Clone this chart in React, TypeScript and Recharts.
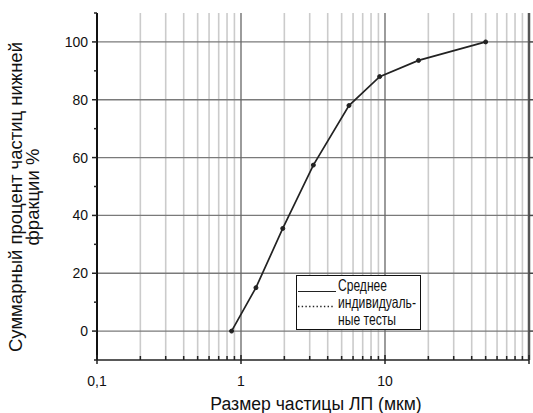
import React from 'react';
import { LineChart, Line, XAxis, YAxis, ReferenceLine, Legend } from 'recharts';

const particleSizes = [0.86, 1.27, 1.95, 3.18, 5.62, 9.18, 17.1, 50];
const cumulativePercent = [0, 15, 35.5, 57.4, 78, 88, 93.6, 100];
const data = particleSizes.map((s, i) => ({ size: s, value: cumulativePercent[i] }));

const xMajorTicks = [0.1, 1, 10, 100];
const xMinorTicks = [0.2, 0.3, 0.4, 0.5, 0.6, 0.7, 0.8, 0.9, 2, 3, 4, 5, 6, 7, 8, 9, 20, 30, 40, 50, 60, 70, 80, 90];
const xTickLabels: Record<string, string> = { '0.1': '0,1', '1': '1', '10': '10' };
const yMajorTicks = [0, 20, 40, 60, 80, 100];
const yMinorTicks = [-10, 10, 30, 50, 70, 90, 110];
const yTickLabels = ['0', '20', '40', '60', '80', '100'];

const FONT = "'Liberation Sans', Arial, sans-serif";

const allXTicks = [...xMajorTicks, ...xMinorTicks].sort((a, b) => a - b);
const allYTicks = [...yMajorTicks, ...yMinorTicks].sort((a, b) => a - b);

const XTick = (props: any) => {
  const { x, y, payload } = props;
  const v = payload.value;
  const label = xTickLabels[String(v)];
  const major = xMajorTicks.includes(v);
  return (
    <g>
      <line x1={x} x2={x} y1={major ? y - 5 : y - 4} y2={major ? y + 4 : y} stroke="#222" strokeWidth={1.5} />
      {label !== undefined && (
        <text x={x} y={y + 26} textAnchor="middle" fontSize={14} fontFamily={FONT} fill="#111">
          {label}
        </text>
      )}
    </g>
  );
};

const YTick = (props: any) => {
  const { x, y, payload } = props;
  const v = payload.value;
  const idx = yMajorTicks.indexOf(v);
  const major = idx >= 0;
  return (
    <g>
      <line x1={major ? x - 5 : x - 3} x2={x} y1={y} y2={y} stroke="#222" strokeWidth={1.5} />
      {major && (
        <text x={x - 9} y={y + 5} textAnchor="end" fontSize={14} fontFamily={FONT} fill="#111">
          {yTickLabels[idx]}
        </text>
      )}
    </g>
  );
};

const RightTick = (props: any) => {
  const { x, y } = props;
  return <line x1={x} x2={x + 5} y1={y} y2={y} stroke="#444" strokeWidth={1.5} />;
};

const YTitle = () => (
  <text transform="rotate(-90, 22, 197)" x={22} y={197} textAnchor="middle" fontSize={18.5} fontFamily={FONT} fill="#111">
    <tspan x={22} dy={0}>Суммарный процент частиц нижней</tspan>
    <tspan x={22} dy={17}>фракции %</tspan>
  </text>
);

const XTitle = () => (
  <text x={316} y={410} textAnchor="middle" fontSize={17.6} fontFamily={FONT} fill="#111">
    Размер частицы ЛП (мкм)
  </text>
);

const LegendBox = () => (
  <svg width={140} height={58} style={{ display: 'block', overflow: 'visible' }}>
    <rect x={0.5} y={0.5} width={124} height={54} fill="#fff" stroke="#111" strokeWidth={1} />
    <line x1={2} x2={40} y1={16.5} y2={16.5} stroke="#222" strokeWidth={1.2} />
    <line x1={2} x2={37} y1={31.5} y2={31.5} stroke="#222" strokeWidth={1.4} strokeDasharray="1.4 2.3" />
    <text x={42} y={16} fontSize={16.5} fontFamily={FONT} fill="#111" textLength={49} lengthAdjust="spacingAndGlyphs">Среднее</text>
    <text x={42} y={33} fontSize={16.5} fontFamily={FONT} fill="#111" textLength={78} lengthAdjust="spacingAndGlyphs">индивидуаль-</text>
    <text x={42} y={50} fontSize={16.5} fontFamily={FONT} fill="#111" textLength={58} lengthAdjust="spacingAndGlyphs">ные тесты</text>
  </svg>
);

export default function App() {
  return (
    <div style={{ position: 'absolute', left: 0, top: 0, width: 533, height: 413, background: '#fff' }}>
      <LineChart width={533} height={413} data={data} margin={{ top: 13, right: 0, bottom: 0, left: 0 }}>
        {xMinorTicks.map((v) => (
          <ReferenceLine key={'vx' + v} x={v} yAxisId="left" stroke="#cbcbcb" strokeWidth={1.6} />
        ))}
        {yMajorTicks.map((v) => (
          <ReferenceLine key={'hy' + v} y={v} yAxisId="left" stroke="#7a7a7a" strokeWidth={1.3} />
        ))}
        {[1, 10].map((v) => (
          <ReferenceLine key={'mx' + v} x={v} yAxisId="left" stroke="#666" strokeWidth={1.3} />
        ))}
        <XAxis
          dataKey="size"
          type="number"
          scale="log"
          domain={[0.1, 100]}
          allowDataOverflow
          ticks={allXTicks}
          interval={0}
          height={53}
          tickSize={0}
          tickMargin={0}
          tick={<XTick />}
          tickLine={false}
          axisLine={{ stroke: '#222', strokeWidth: 1.5 }}
          label={<XTitle />}
        />
        <YAxis
          yAxisId="left"
          type="number"
          domain={[-10, 110]}
          allowDataOverflow
          ticks={allYTicks}
          interval={0}
          width={97}
          tickSize={0}
          tickMargin={0}
          tick={<YTick />}
          tickLine={false}
          axisLine={{ stroke: '#111', strokeWidth: 2 }}
          label={<YTitle />}
        />
        <YAxis
          yAxisId="right"
          orientation="right"
          type="number"
          domain={[-10, 110]}
          allowDataOverflow
          ticks={yMajorTicks}
          interval={0}
          width={4}
          tickSize={0}
          tickMargin={0}
          tick={<RightTick />}
          tickLine={false}
          axisLine={{ stroke: '#555', strokeWidth: 2.5 }}
        />
        <Line
          yAxisId="left"
          dataKey="value"
          stroke="#222"
          strokeWidth={1.7}
          dot={{ r: 2, fill: '#222', stroke: '#222', strokeWidth: 1 }}
          isAnimationActive={false}
        />
        <Legend
          layout="horizontal"
          verticalAlign="middle"
          align="center"
          content={<LegendBox />}
          wrapperStyle={{ left: 296, top: 275, width: 140, height: 58 }}
        />
      </LineChart>
    </div>
  );
}
